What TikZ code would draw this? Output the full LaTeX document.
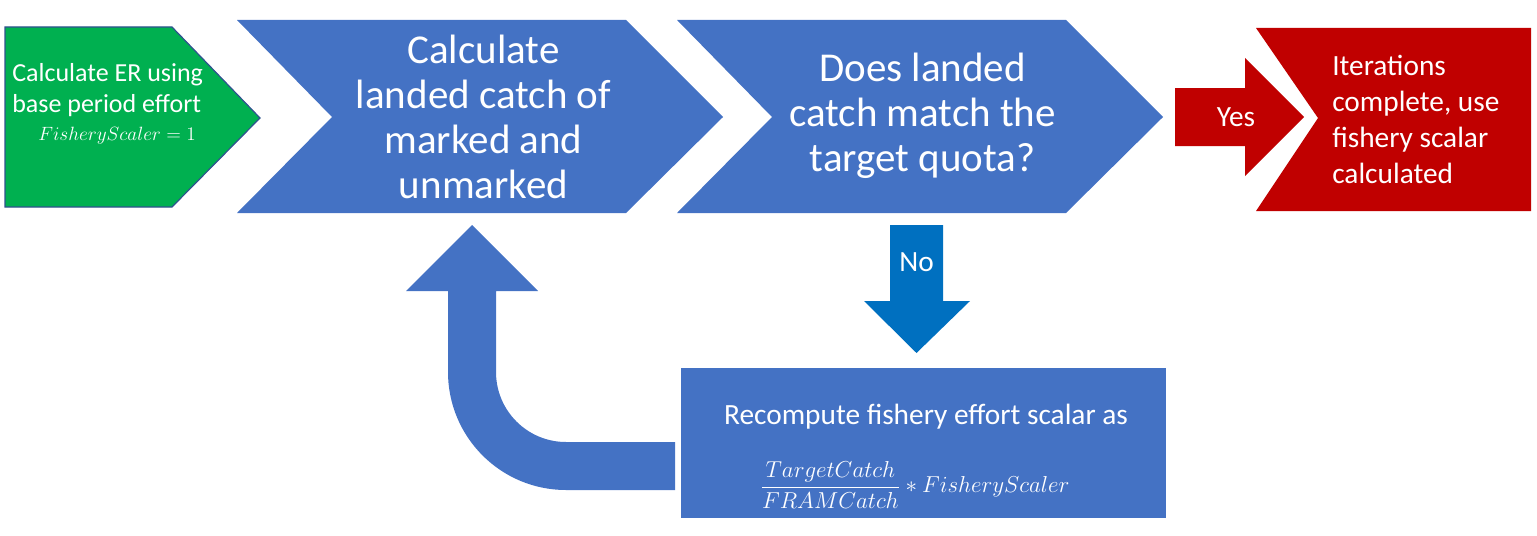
\documentclass[tikz,border=0pt]{standalone}
\usepackage{amsmath}
\usepackage{fontspec}
\setmainfont{Carlito}
\definecolor{fgreen}{HTML}{00B050}
\definecolor{fblue}{HTML}{4472C4}
\definecolor{fred}{HTML}{C00000}
\definecolor{fdblue}{HTML}{0070C0}
\definecolor{fedge}{HTML}{2F528F}
\tikzset{
  txt/.style={text=white, inner sep=0pt},
  bigtxt/.style={txt, align=center, font=\fontsize{30.75}{33.75}\selectfont},
  midtxt/.style={txt, font=\fontsize{22}{27}\selectfont},
  smalltxt/.style={txt, align=left, font=\fontsize{19.5}{23.25}\selectfont},
}
\begin{document}
\begin{tikzpicture}[x=0.75pt,y=-0.75pt]
\useasboundingbox (0,0) rectangle (1537,535);
% green pentagon
\draw[fill=fgreen, draw=fedge, line width=0.9pt] (5,27) -- (172,27) -- (260,118) -- (172,207) -- (5,207) -- cycle;
% blue chevrons
\fill[fblue] (237,20) -- (626,20) -- (723,117) -- (626,213) -- (237,213) -- (332,117) -- cycle;
\fill[fblue] (677,20) -- (1066,20) -- (1163,117) -- (1066,213) -- (677,213) -- (772,117) -- cycle;
% red chevron
\fill[fred] (1256,28) -- (1531,28) -- (1531,211) -- (1256,211) -- (1318,118) -- cycle;
% yes arrow
\fill[fred] (1175,88) -- (1245,88) -- (1245,58) -- (1304,117) -- (1245,176) -- (1245,146) -- (1175,146) -- cycle;
% no arrow
\fill[fdblue] (890,225) -- (943,225) -- (943,301) -- (970,301) -- (916.5,353) -- (864,301) -- (890,301) -- cycle;
% bottom box
\fill[fblue] (681,368) rectangle (1166,518);
% U-turn arrow
\fill[fblue] (472,225) -- (538,291) -- (496,291) -- (496,372)
  .. controls (496,410.7) and (527.3,442) .. (566,442)
  -- (675,442) -- (675,490) -- (566,490)
  .. controls (500.8,490) and (448,437.2) .. (448,372)
  -- (448,291) -- (406,291) -- cycle;
% texts
\node[smalltxt, anchor=west] (greentext) at (12,90) {Calculate ER using\\base period effort};
\node[txt, anchor=base west, font=\fontsize{15}{18}\selectfont] (greenmath) at (38,140) {$FisheryScaler = 1$};
\node[bigtxt] (calc) at (483.5,117) {Calculate\\landed catch of\\marked and\\unmarked};
\node[bigtxt] (does) at (922.5,116) {Does landed\\catch match the\\target quota?};
\node[midtxt, align=left, anchor=west] (iter) at (1332,119) {Iterations\\complete, use\\fishery scalar\\calculated};
\node[midtxt] (yes) at (1236,117) {Yes};
\node[midtxt] (no) at (916.5,262) {No};
\node[midtxt] (recomp) at (926,417) {Recompute fishery effort scalar as};
\node[txt, font=\fontsize{18}{22}\selectfont] (formula) at (915,485) {$\displaystyle\frac{TargetCatch}{FRAMCatch} * FisheryScaler$};
\end{tikzpicture}
\end{document}
